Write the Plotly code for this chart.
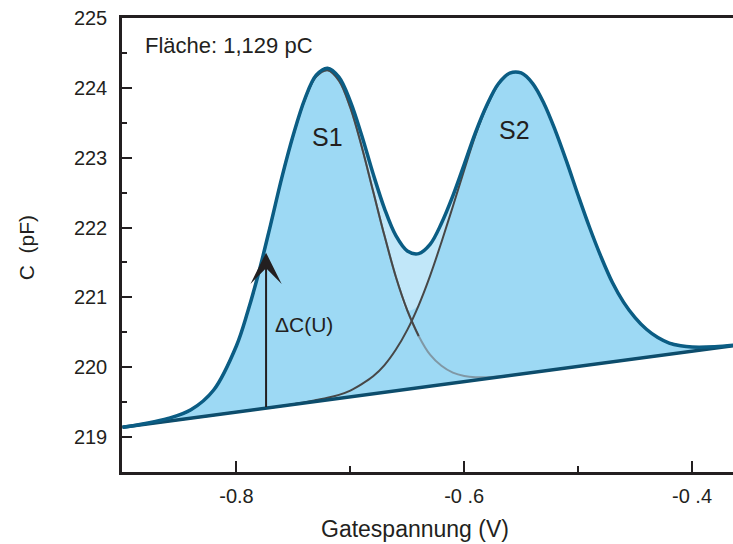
import numpy as np
import plotly.graph_objects as go

# ---- data ----
gate_v = [-0.90, -0.88, -0.86, -0.84, -0.82, -0.80, -0.79, -0.78, -0.77, -0.76,
          -0.75, -0.74, -0.73, -0.72, -0.71, -0.70, -0.69, -0.68, -0.67, -0.66,
          -0.65, -0.64, -0.63, -0.62, -0.61, -0.60, -0.59, -0.58, -0.57, -0.56,
          -0.55, -0.54, -0.53, -0.52, -0.51, -0.50, -0.49, -0.48, -0.47, -0.46,
          -0.45, -0.44, -0.43, -0.42, -0.41, -0.40, -0.38, -0.36]

baseline_c = [219.140, 219.184, 219.227, 219.271, 219.314, 219.358, 219.380, 219.402, 219.423, 219.445,
              219.467, 219.489, 219.511, 219.532, 219.554, 219.576, 219.598, 219.620, 219.641, 219.663,
              219.685, 219.707, 219.729, 219.750, 219.772, 219.794, 219.816, 219.838, 219.859, 219.881,
              219.903, 219.925, 219.947, 219.968, 219.990, 220.012, 220.034, 220.056, 220.077, 220.099,
              220.121, 220.143, 220.165, 220.186, 220.208, 220.230, 220.274, 220.317]

peak_s1 = [0.00, 0.01, 0.04, 0.12, 0.36, 0.95, 1.42, 1.98, 2.62, 3.28,
           3.86, 4.34, 4.65, 4.72, 4.55, 4.14, 3.56, 2.90, 2.24, 1.63,
           1.13, 0.74, 0.45, 0.27, 0.15, 0.08, 0.04, 0.02, 0.01, 0.00,
           0.00, 0.00, 0.00, 0.00, 0.00, 0.00, 0.00, 0.00, 0.00, 0.00,
           0.00, 0.00, 0.00, 0.00, 0.00, 0.00, 0.00, 0.00]

peak_s2 = [0.00, 0.00, 0.00, 0.00, 0.00, 0.00, 0.00, 0.00, 0.00, 0.00,
           0.004, 0.01, 0.02, 0.03, 0.05, 0.09, 0.16, 0.25, 0.39, 0.59,
           0.85, 1.18, 1.58, 2.04, 2.53, 3.03, 3.51, 3.90, 4.19, 4.33,
           4.31, 4.14, 3.83, 3.42, 2.95, 2.45, 1.97, 1.53, 1.14, 0.83,
           0.59, 0.40, 0.26, 0.16, 0.10, 0.06, 0.02, 0.005]

x_tickvals = [-0.8, -0.6, -0.4]
x_ticktext = ["-0.8", "-0 .6", "-0 .4"]
x_minor = [-0.7, -0.5]
y_tickvals = [219, 220, 221, 222, 223, 224, 225]
y_minor = [219.5, 220.5, 221.5, 222.5, 223.5, 224.5]

arrow_x = -0.774
arrow_bottom = 219.41
arrow_top = 221.64
s1_crossing = -0.64

# ---- derived curves ----
xv = np.array(gate_v)
base = np.array(baseline_c)
s1 = np.array(peak_s1)
s2 = np.array(peak_s2)
total = base + s1 + s2
comp_max = base + np.maximum(s1, s2)

TXT = "#231f20"
FONT = "Liberation Sans, Arial, sans-serif"
FILL_MAIN = "#9dd9f4"
FILL_LIGHT = "#c1e7f9"
TEAL = "#0b5d84"

fig = go.Figure()
common = dict(mode="lines", hoverinfo="skip", showlegend=False)

fig.add_trace(go.Scatter(x=xv, y=base, line=dict(width=0, shape="spline"), **common))
fig.add_trace(go.Scatter(x=xv, y=total, fill="tonexty", fillcolor=FILL_LIGHT,
                         line=dict(width=0, shape="spline"), **common))
fig.add_trace(go.Scatter(x=xv, y=base, line=dict(width=0, shape="spline"), **common))
fig.add_trace(go.Scatter(x=xv, y=comp_max, fill="tonexty", fillcolor=FILL_MAIN,
                         line=dict(width=0, shape="spline"), **common))
# component curves
fig.add_trace(go.Scatter(x=xv, y=base + s1, line=dict(color="#8098a5", width=2, shape="spline"), **common))
left = xv <= s1_crossing
fig.add_trace(go.Scatter(x=xv[left], y=(base + s1)[left], line=dict(color="#474747", width=2, shape="spline"), **common))
fig.add_trace(go.Scatter(x=xv, y=base + s2, line=dict(color="#474747", width=2, shape="spline"), **common))
# baseline and total
fig.add_trace(go.Scatter(x=xv, y=base, line=dict(color="#0d4d6c", width=3.5), **common))
fig.add_trace(go.Scatter(x=xv, y=total, line=dict(color=TEAL, width=3.5, shape="spline"), **common))

annotations = [
    dict(x=arrow_x, y=arrow_top, ax=arrow_x, ay=arrow_bottom, xref="x", yref="y",
         axref="x", ayref="y", text="", showarrow=True, arrowhead=3, arrowsize=2.6,
         arrowwidth=2, arrowcolor=TXT),
    dict(x=-0.768, y=220.61, xref="x", yref="y", text="\u0394C(U)", showarrow=False,
         xanchor="left", yanchor="middle", font=dict(size=21, color=TXT, family=FONT)),
    dict(x=-0.72, y=223.30, xref="x", yref="y", text="S1", showarrow=False,
         xanchor="center", yanchor="middle", font=dict(size=25, color=TXT, family=FONT)),
    dict(x=-0.556, y=223.40, xref="x", yref="y", text="S2", showarrow=False,
         xanchor="center", yanchor="middle", font=dict(size=25, color=TXT, family=FONT)),
    dict(x=0.0344, y=0.9405, xref="paper", yref="paper", text="Fläche: 1,129 pC", showarrow=False,
         xanchor="left", yanchor="middle", font=dict(size=22, color=TXT, family=FONT)),
    dict(x=0.4795, y=-0.125, xref="paper", yref="paper", text="Gatespannung (V)", showarrow=False,
         xanchor="center", yanchor="middle", font=dict(size=23, color=TXT, family=FONT)),
    dict(x=-0.157, y=0.493, xref="paper", yref="paper", text="C\u00a0 (pF)", showarrow=False,
         textangle=-90, xanchor="center", yanchor="middle", font=dict(size=21, color=TXT, family=FONT)),
]

fig.update_layout(
    width=733, height=544,
    margin=dict(l=122, r=0, t=18, b=72, pad=0),
    paper_bgcolor="white", plot_bgcolor="white",
    font=dict(family=FONT, color=TXT, size=20),
    annotations=annotations,
    xaxis=dict(range=[-0.9005, -0.364], tickvals=x_tickvals, ticktext=x_ticktext,
               ticks="inside", ticklen=11, tickwidth=2, tickcolor=TXT,
               minor=dict(tickvals=x_minor, ticks="inside", ticklen=6, tickwidth=2, tickcolor=TXT),
               showline=True, linecolor=TXT, linewidth=2.5, mirror=True,
               showgrid=False, zeroline=False, tickfont=dict(size=20), ticklabelstandoff=4),
    yaxis=dict(range=[218.5, 225], tickvals=y_tickvals,
               ticks="inside", ticklen=10, tickwidth=2, tickcolor=TXT,
               minor=dict(tickvals=y_minor, ticks="inside", ticklen=5, tickwidth=2, tickcolor=TXT),
               showline=True, linecolor=TXT, linewidth=2.5,
               showgrid=False, zeroline=False, tickfont=dict(size=20), ticklabelstandoff=8),
)

fig.write_html("out.html")
